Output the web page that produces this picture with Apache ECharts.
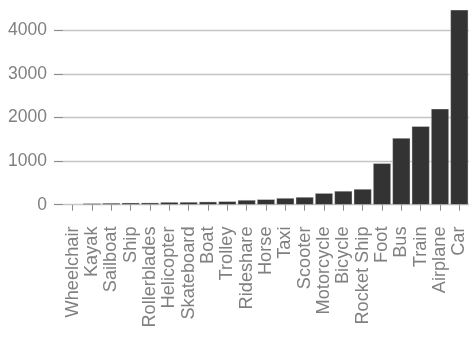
<!DOCTYPE html>
<html>
<head>
<meta charset="utf-8">
<script src="https://cdn.jsdelivr.net/npm/echarts@6/dist/echarts.min.js"></script>
<style>
  html, body { margin: 0; padding: 0; background: #fff; }
  #chart { width: 474px; height: 344px; }
</style>
</head>
<body>
<div id="chart"></div>
<script>
// modes of transport, sorted by count
const categories = ["Wheelchair", "Kayak", "Sailboat", "Ship", "Rollerblades", "Helicopter",
  "Skateboard", "Boat", "Trolley", "Rideshare", "Horse", "Taxi", "Scooter", "Motorcycle",
  "Bicycle", "Rocket Ship", "Foot", "Bus", "Train", "Airplane", "Car"];
const counts = [16, 32, 39, 45, 46, 60, 62, 69, 78, 108, 124, 153, 176, 265,
  315, 360, 950, 1530, 1800, 2200, 4470];
const yTicks = [0, 1000, 2000, 3000, 4000];
// axis limits with a bit of padding above and below
const yMin = -224;
const yMax = 4696;

const chart = echarts.init(document.getElementById("chart"));
const textStyle = {
  fontFamily: "Liberation Sans, Arial, sans-serif",
  fontSize: 17.5,
  color: "#808080",
};

chart.setOption({
  animation: false,
  grid: { left: 63, right: 5, top: 0, bottom: 129.5 },
  xAxis: {
    type: "category",
    data: categories,
    axisLine: { show: false },
    axisTick: { show: true, alignWithLabel: true, length: 6, lineStyle: { color: "#8c8c8c", width: 1 } },
    axisLabel: Object.assign({}, textStyle, { fontSize: 18.2, rotate: 90, margin: 12, interval: 0 }),
  },
  yAxis: {
    type: "value",
    min: yMin,
    max: yMax,
    axisLine: { show: false },
    axisTick: { show: true, length: 9, customValues: yTicks, lineStyle: { color: "#8c8c8c", width: 1.2 } },
    axisLabel: Object.assign({}, textStyle, {
      margin: 16,
      customValues: yTicks,
      formatter: (v) => String(v),
    }),
    splitLine: { show: true, lineStyle: { color: "#c4c4c4", width: 1.3 } },
  },
  series: [
    {
      type: "bar",
      data: counts,
      barCategoryGap: "8%",
      itemStyle: { color: "#333333", borderColor: "#eeeeee", borderWidth: 0.4 },
    },
  ],
});
</script>
</body>
</html>
